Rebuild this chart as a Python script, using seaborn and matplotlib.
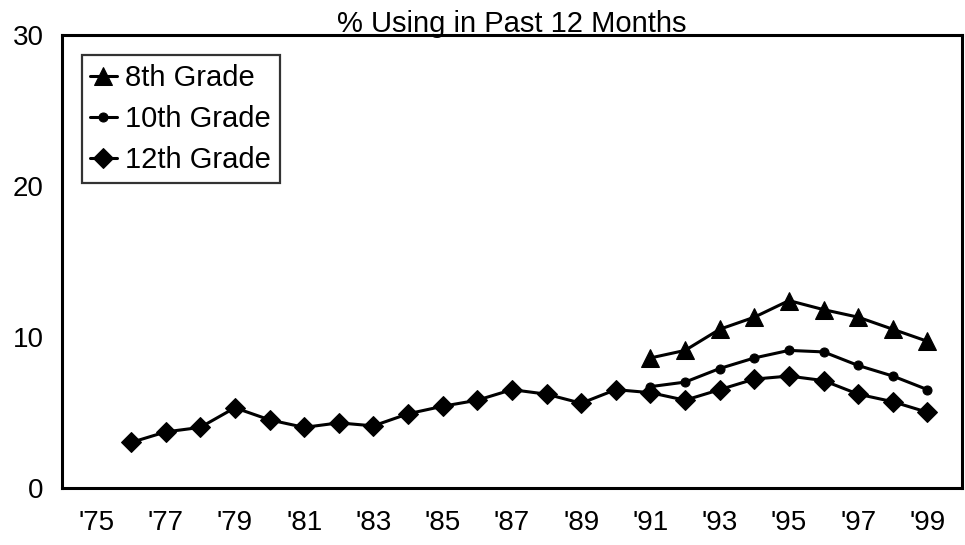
import pandas as pd
import matplotlib
matplotlib.use('Agg')
import matplotlib.pyplot as plt
import seaborn as sns

# ================================================ DATA ===============================================================

YEARS_12 = list(range(1976, 2000))
YEARS_8_10 = list(range(1991, 2000))

GRADE_12 = [3.0, 3.7, 4.0, 5.3, 4.5, 4.0, 4.3, 4.1, 4.9, 5.4, 5.8, 6.5,
            6.2, 5.6, 6.5, 6.3, 5.8, 6.5, 7.2, 7.4, 7.1, 6.2, 5.7, 5.0]
GRADE_10 = [6.7, 7.0, 7.9, 8.6, 9.1, 9.0, 8.1, 7.4, 6.5]
GRADE_8 = [8.6, 9.1, 10.5, 11.3, 12.4, 11.8, 11.3, 10.5, 9.7]

SERIES = ['8th Grade', '10th Grade', '12th Grade']
TICK_YEARS = list(range(1975, 2000))
TICK_LABELS = [f"'{y % 100:02d}" if y % 2 == 1 else '' for y in TICK_YEARS]
TITLE = '% Using in Past 12 Months'

# ================================================ PLOT ===============================================================

sns.set_style('white')
plt.rcParams['font.family'] = ['Liberation Sans', 'DejaVu Sans']
plt.rcParams['text.color'] = 'black'
plt.rcParams['xtick.color'] = 'black'
plt.rcParams['ytick.color'] = 'black'

df = pd.concat([
    pd.DataFrame({'year': YEARS_8_10, 'value': GRADE_8, 'grade': SERIES[0]}),
    pd.DataFrame({'year': YEARS_8_10, 'value': GRADE_10, 'grade': SERIES[1]}),
    pd.DataFrame({'year': YEARS_12, 'value': GRADE_12, 'grade': SERIES[2]}),
])

fig = plt.figure(figsize=(9.65, 5.45), dpi=100)
ax = fig.add_axes([0.064, 0.105, 0.933, 0.831])

markers = {SERIES[0]: '^', SERIES[1]: 'o', SERIES[2]: 'D'}
sizes = {SERIES[0]: 13, SERIES[1]: 6.5, SERIES[2]: 10}
for name in SERIES:
    sub = df[df['grade'] == name]
    sns.lineplot(data=sub, x='year', y='value', ax=ax, color='black', linewidth=2.2,
                 marker=markers[name], markersize=sizes[name], markeredgecolor='black',
                 label=name)

ax.set_xlim(1974, 2000)
ax.set_ylim(0, 30)
ax.set_xticks(TICK_YEARS)
ax.set_xticklabels(TICK_LABELS)
ax.set_yticks([0, 10, 20, 30])
ax.tick_params(axis='x', direction='in', length=8, width=1.2, labelsize=20, pad=16)
ax.tick_params(axis='y', direction='in', length=12, width=1.2, labelsize=20, pad=13)
ax.set_xlabel('')
ax.set_ylabel('')
for s in ax.spines.values():
    s.set_visible(True)
    s.set_color('black')
    s.set_linewidth(2.2)

ax.set_title(TITLE, fontsize=21, pad=2)

leg = ax.legend(loc='upper left', bbox_to_anchor=(0.022, 0.955), fontsize=21, frameon=True,
                fancybox=False, edgecolor='black', handlelength=0.9, handletextpad=0.3,
                borderpad=0.3, labelspacing=0.45, borderaxespad=0)
leg.get_frame().set_linewidth(1.6)

fig.savefig('out.png', dpi=100)
plt.close(fig)
